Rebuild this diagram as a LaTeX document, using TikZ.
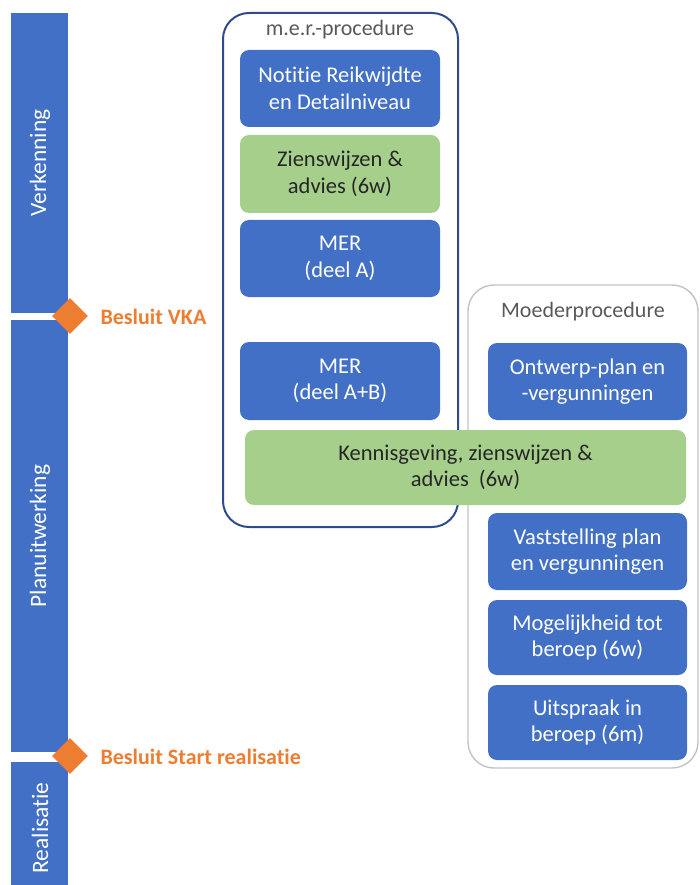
\documentclass[tikz,border=0pt]{standalone}
\usepackage{fontspec}
\setmainfont{Carlito}[Ligatures=NoCommon]
\usetikzlibrary{shapes.geometric}
\definecolor{offblue}{HTML}{4270C6}
\definecolor{offgreen}{HTML}{A6CF8B}
\definecolor{offorange}{HTML}{ED7D31}
\definecolor{merborder}{HTML}{2F4B8C}
\definecolor{moedborder}{HTML}{BFC3C9}
\definecolor{titlegray}{HTML}{595959}
\tikzset{
  phase/.style={fill=offblue, draw=none},
  phasetext/.style={text=white, font=\fontsize{23.5}{26}\selectfont, rotate=90},
  bluebox/.style={fill=offblue, rounded corners=9pt, text=white, align=center,
    font=\fontsize{22.5}{26.5}\selectfont, inner sep=0pt},
  greenbox/.style={fill=offgreen, rounded corners=9pt, text=black!85, align=center,
    font=\fontsize{22.5}{26.5}\selectfont, inner sep=0pt},
  milestone/.style={diamond, fill=offorange, minimum width=36pt, minimum height=36pt, inner sep=0pt},
  mslabel/.style={text=offorange, font=\bfseries\fontsize{22}{24}\selectfont, anchor=west},
  ctitle/.style={text=titlegray, font=\fontsize{22}{24}\selectfont}
}
\begin{document}
\begin{tikzpicture}[x=1pt,y=-1pt]
\useasboundingbox (0,0) rectangle (700,885);
% phase bars
\fill[phase] (11,13) rectangle (68,313);
\fill[phase] (11,320) rectangle (68,752);
\fill[phase] (11,762) rectangle (68,885);
\node[phasetext] (verk) at (40,163) {Verkenning};
\node[phasetext] (plan) at (40,536) {Planuitwerking};
\node[phasetext] (real) at (40,828) {Realisatie};
% milestones
\node[milestone] (d1) at (70,316) {};
\node[milestone] (d2) at (70,756) {};
\node[mslabel] (l1) at (97,317) {Besluit VKA};
\node[mslabel] (l2) at (97,757) {Besluit Start realisatie};
% containers
\draw[merborder, line width=2pt, rounded corners=26pt] (223,13) rectangle (458,527);
\node[ctitle] (mertitle) at (340,30) {m.e.r.-procedure};
\draw[moedborder, line width=1.4pt, rounded corners=26pt] (468,285) rectangle (698,768);
\node[ctitle] (moedtitle) at (583,312) {Moederprocedure};
% m.e.r. boxes
\node[bluebox, minimum width=200pt, minimum height=77pt] (nrd) at (340,88.5) {Notitie Reikwijdte\\en Detailniveau};
\node[greenbox, minimum width=200pt, minimum height=78pt] (zw) at (340,174) {Zienswijzen \&\\advies (6w)};
\node[bluebox, minimum width=200pt, minimum height=77pt] (merA) at (340,258.5) {MER\\(deel A)};
\node[bluebox, minimum width=200pt, minimum height=78pt] (merAB) at (340,381) {MER\\(deel A+B)};
% moeder boxes
\node[bluebox, minimum width=199pt, minimum height=77pt] (ontw) at (587.5,381.5) {Ontwerp-plan en\\-vergunningen};
\node[greenbox, minimum width=441pt, minimum height=75pt] (kenn) at (465.5,467.5) {Kennisgeving, zienswijzen \&\\advies~~(6w)};
\node[bluebox, minimum width=199pt, minimum height=77pt] (vast) at (587.5,551.5) {Vaststelling plan\\en vergunningen};
\node[bluebox, minimum width=199pt, minimum height=75pt] (moge) at (587.5,637.5) {Mogelijkheid tot\\beroep (6w)};
\node[bluebox, minimum width=199pt, minimum height=75pt] (uits) at (587.5,722.5) {Uitspraak in\\beroep (6m)};
\end{tikzpicture}
\end{document}
